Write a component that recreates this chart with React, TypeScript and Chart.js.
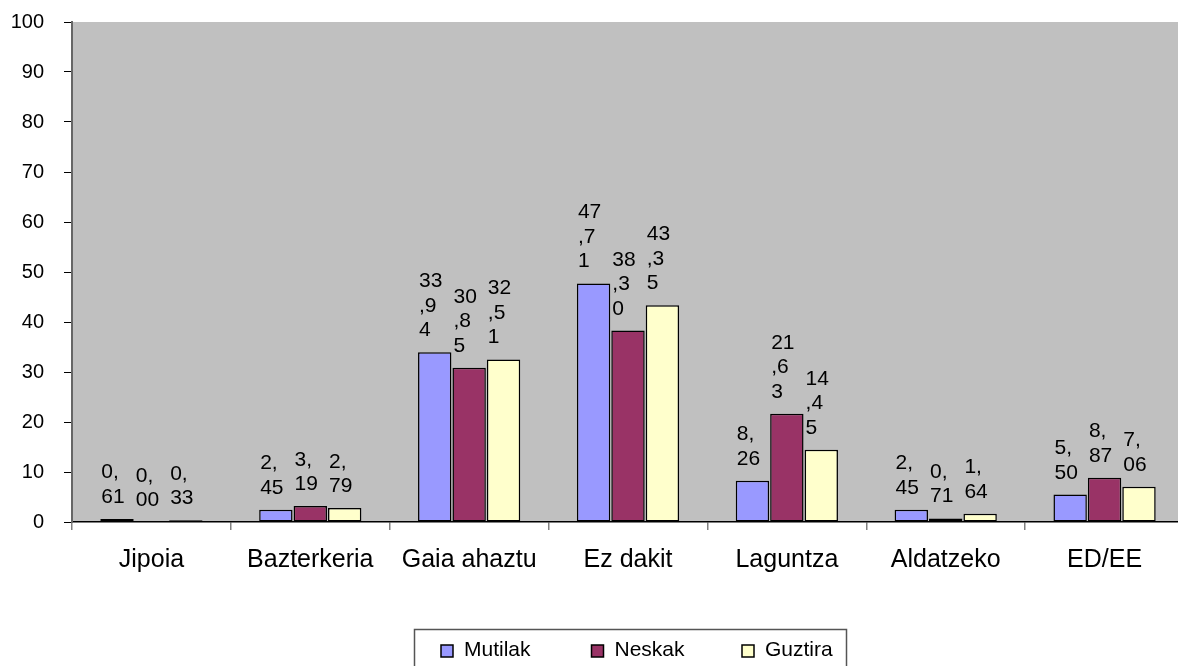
import React, { useEffect, useRef } from "react";
import { Chart, registerables } from "chart.js";

Chart.register(...registerables);

const categories = ["Jipoia", "Bazterkeria", "Gaia ahaztu", "Ez dakit", "Laguntza", "Aldatzeko", "ED/EE"];
const seriesNames = ["Mutilak", "Neskak", "Guztira"];
const mutilak = [0.61, 2.45, 33.94, 47.71, 8.26, 2.45, 5.5];
const neskak = [0.0, 3.19, 30.85, 38.3, 21.63, 0.71, 8.87];
const guztira = [0.33, 2.79, 32.51, 43.35, 14.45, 1.64, 7.06];
const seriesColors = ["#9999FF", "#993366", "#FFFFCC"];
const yMin = 0;
const yMax = 100;
const yStep = 10;

const FONT = "'Liberation Sans', Arial, sans-serif";
const SHIFT = 10;
const W = 1200;
const H = 666 + SHIFT;

function wrapChars(ctx: CanvasRenderingContext2D, text: string, maxW: number): string[] {
  const lines: string[] = [];
  let cur = "";
  for (const ch of text) {
    const t = cur + ch;
    if (cur && ctx.measureText(t).width > maxW) {
      lines.push(cur);
      cur = ch;
    } else cur = t;
  }
  if (cur) lines.push(cur);
  return lines;
}

const bgPlugin = {
  id: "bgPlot",
  beforeDraw(chart: any) {
    const { ctx, chartArea } = chart;
    ctx.save();
    ctx.fillStyle = "#C0C0C0";
    ctx.fillRect(chartArea.left, chartArea.top, chartArea.right - chartArea.left, chartArea.bottom - chartArea.top);
    ctx.restore();
  },
};

const labelPlugin = {
  id: "wrappedLabels",
  afterDatasetsDraw(chart: any) {
    const ctx = chart.ctx as CanvasRenderingContext2D;
    ctx.save();
    ctx.font = `21px ${FONT}`;
    ctx.fillStyle = "#000";
    ctx.textAlign = "left";
    ctx.textBaseline = "alphabetic";
    chart.data.datasets.forEach((ds: any, di: number) => {
      const meta = chart.getDatasetMeta(di);
      meta.data.forEach((bar: any, i: number) => {
        const v = ds.data[i] as number;
        const txt = v.toFixed(2).replace(".", ",");
        const lines = wrapChars(ctx, txt, 26);
        const lh = 24.5;
        const x = bar.x - bar.width / 2 + 1;
        const lastBase = bar.y - 16;
        lines.forEach((ln, k) => {
          ctx.fillText(ln, x, lastBase - (lines.length - 1 - k) * lh);
        });
      });
    });
    ctx.restore();
  },
};

const legendPlugin = {
  id: "boxLegend",
  afterDraw(chart: any) {
    const ctx = chart.ctx as CanvasRenderingContext2D;
    const left = 414;
    const top = 629 + SHIFT;
    const right = 846;
    const bottom = 672 + SHIFT;
    ctx.save();
    ctx.fillStyle = "#fff";
    ctx.fillRect(left, top, right - left, bottom - top);
    ctx.strokeStyle = "#555";
    ctx.lineWidth = 1.5;
    ctx.strokeRect(left + 0.5, top + 0.5, right - left, bottom - top);
    ctx.font = `21px ${FONT}`;
    ctx.textBaseline = "middle";
    ctx.textAlign = "left";
    chart.data.datasets.forEach((ds: any, i: number) => {
      const mx = left + 27 + i * 150.5;
      const my = top + 16;
      ctx.fillStyle = ds.backgroundColor;
      ctx.fillRect(mx, my, 12, 12);
      ctx.strokeStyle = "#000";
      ctx.lineWidth = 1.5;
      ctx.strokeRect(mx, my, 12, 12);
      ctx.fillStyle = "#000";
      ctx.fillText(ds.label, mx + 23, top + 21);
    });
    ctx.restore();
  },
};

export default function App() {
  const ref = useRef<HTMLCanvasElement>(null);
  useEffect(() => {
    if (!ref.current) return;
    const datasets = [mutilak, neskak, guztira].map((d, i) => ({
      label: seriesNames[i],
      data: d,
      backgroundColor: seriesColors[i],
      borderColor: "#000",
      borderWidth: 1.5,
      borderSkipped: false,
      categoryPercentage: 0.65,
      barPercentage: 0.97,
    }));
    const chart = new Chart(ref.current, {
      type: "bar",
      data: { labels: categories, datasets },
      options: {
        animation: false,
        responsive: false,
        devicePixelRatio: 1,
        layout: { padding: { left: 0, top: 12, right: W - 1184, bottom: 0 } },
        plugins: { legend: { display: false }, tooltip: { enabled: false } },
        scales: {
          x: {
            afterFit(scale: any) {
              scale.height = H - 522 - SHIFT;
            },
            grid: {
              offset: true,
              drawOnChartArea: false,
              drawTicks: true,
              tickLength: 8,
              color: "#808080",
              lineWidth: 1.5,
            },
            border: { display: true, color: "#000", width: 1.5 },
            ticks: {
              color: "#000",
              font: { family: FONT, size: 25 },
              padding: 15,
              maxRotation: 0,
              autoSkip: false,
            },
          },
          y: {
            min: yMin,
            max: yMax,
            afterFit(scale: any) {
              scale.width = 72;
            },
            grid: {
              drawOnChartArea: false,
              drawTicks: true,
              tickLength: 8,
              color: "#000",
              lineWidth: 1,
            },
            border: { display: true, color: "#666", width: 2 },
            ticks: {
              stepSize: yStep,
              color: "#000",
              font: { family: FONT, size: 20 },
              padding: 20,
            },
          },
        },
      },
      plugins: [bgPlugin, labelPlugin, legendPlugin],
    });
    return () => chart.destroy();
  }, []);
  return (
    <div style={{ position: "fixed", left: 0, top: 0, width: 1178, height: 666, overflow: "hidden", background: "#fff" }}>
      <canvas ref={ref} width={W} height={H} style={{ display: "block", width: W, height: H, marginTop: -SHIFT }} />
    </div>
  );
}
